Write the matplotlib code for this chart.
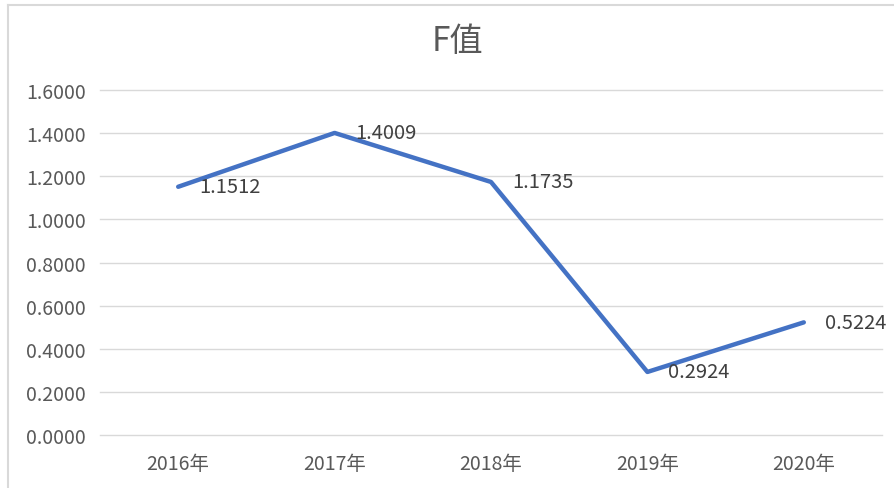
import matplotlib
matplotlib.use('Agg')
import matplotlib.pyplot as plt
from matplotlib.lines import Line2D

plt.rcParams['font.family'] = ['Noto Sans CJK SC', 'DejaVu Sans']

years = ['2016年', '2017年', '2018年', '2019年', '2020年']
f_values = [1.1512, 1.4009, 1.1735, 0.2924, 0.5224]
y_ticks = [0.0, 0.2, 0.4, 0.6, 0.8, 1.0, 1.2, 1.4, 1.6]

fig = plt.figure(figsize=(8.94, 4.89), dpi=100)
ax = fig.add_axes([100 / 894, 1 - 436 / 489, 782 / 894, 345 / 489])

# chart frame (excel style border)
frame_col = '#D9D9D9'
fig.add_artist(Line2D([8 / 894, 8 / 894], [0, 1 - 6 / 489], transform=fig.transFigure, color=frame_col, lw=1.5))
fig.add_artist(Line2D([8 / 894, 1], [1 - 6 / 489, 1 - 6 / 489], transform=fig.transFigure, color=frame_col, lw=1.5))

x = list(range(len(years)))
ax.plot(x, f_values, color='#4472C4', lw=3.2, solid_capstyle='round', solid_joinstyle='round', zorder=3)

for xi, v in zip(x, f_values):
    ax.annotate(f'{v:.4f}', (xi, v), xytext=(15, 0), textcoords='offset points',
                ha='left', va='center', fontsize=14.5, color='#404040')

ax.set_xlim(-0.5, len(years) - 0.5)
ax.set_ylim(0, 1.6)
ax.set_yticks(y_ticks)
ax.set_yticklabels([f'{t:.4f}' for t in y_ticks])
ax.set_xticks(x)
ax.set_xticklabels(years)
for t in y_ticks:
    ax.axhline(t, color='#D9D9D9', lw=1, zorder=0, clip_on=False)
for s in ax.spines.values():
    s.set_visible(False)
ax.tick_params(axis='both', length=0, labelsize=14, labelcolor='#595959')
ax.tick_params(axis='y', pad=10)
ax.tick_params(axis='x', pad=13)

fig.text(458 / 894, 1 - 42 / 489, 'F值', ha='center', va='center', fontsize=24, color='#595959')

fig.savefig('out.png', dpi=100)
